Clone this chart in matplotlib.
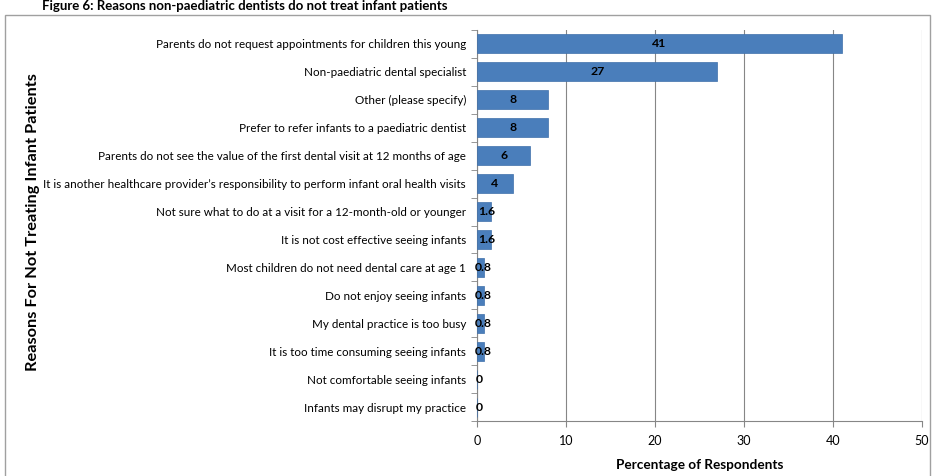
import numpy as np
from matplotlib import pyplot as plt
from matplotlib.patches import Rectangle

# data (top to bottom as in the chart)
reasons = [
    "Parents do not request appointments for children this young",
    "Non-paediatric dental specialist",
    "Other (please specify)",
    "Prefer to refer infants to a paediatric dentist",
    "Parents do not see the value of the first dental visit at 12 months of age",
    "It is another healthcare provider\u2019s responsibility to perform infant oral health visits",
    "Not sure what to do at a visit for a 12-month-old or younger",
    "It is not cost effective seeing infants",
    "Most children do not need dental care at age 1",
    "Do not enjoy seeing infants",
    "My dental practice is too busy",
    "It is too time consuming seeing infants",
    "Not comfortable seeing infants",
    "Infants may disrupt my practice",
]
percent = [41, 27, 8, 8, 6, 4, 1.6, 1.6, 0.8, 0.8, 0.8, 0.8, 0, 0]
value_labels = ["41", "27", "8", "8", "6", "4", "1.6", "1.6", "0.8", "0.8", "0.8", "0.8", "0", "0"]

plt.rcParams['font.family'] = ['Lato', 'DejaVu Sans']

fig = plt.figure(figsize=(9.33, 4.76), dpi=100)
ax = fig.add_axes([477 / 933, 1 - 421 / 476, 445 / 933, 391 / 476])

# outer chart frame
fig.patches.append(Rectangle((5 / 933, -0.01), 925 / 933, 1 - 15 / 476 + 0.01,
                             transform=fig.transFigure, fill=False,
                             edgecolor='#a0a0a0', linewidth=1))

# heading above the frame (cut off in the source, kept small here)
fig.text(0.045, 0.999, "Figure 6: Reasons non-paediatric dentists do not treat infant patients",
         fontsize=9.5, fontweight='bold', va='top', ha='left')

y = np.arange(len(reasons))
ax.barh(y, percent, height=0.68, color='#4a7ebb', edgecolor='#3f70ab', linewidth=0.5, zorder=3)
for yi, v, lab in zip(y, percent, value_labels):
    ax.text(v / 2 + (0.3 if v < 2 else 0), yi, lab, ha='center', va='center',
            fontsize=8.8, fontweight='bold', color='black', zorder=4)

ax.set_ylim(len(reasons) - 0.5, -0.5)
ax.set_xlim(0, 50)
ax.set_xticks([0, 10, 20, 30, 40, 50])
ax.set_yticks(y)
ax.set_yticklabels(reasons, fontsize=8.4)
ax.set_yticks(np.arange(-0.5, len(reasons), 1), minor=True)
ax.tick_params(axis='y', which='major', length=0, pad=8)
ax.tick_params(axis='y', which='minor', length=4, color='#868686')
ax.tick_params(axis='x', length=4, color='#868686', labelsize=9, pad=6)

ax.grid(axis='x', color='#868686', linewidth=0.8, zorder=0)
for s in ['top', 'right']:
    ax.spines[s].set_visible(False)
for s in ['left', 'bottom']:
    ax.spines[s].set_color('#868686')

ax.set_xlabel("Percentage of Respondents", fontsize=9.8, fontweight='bold', labelpad=9)
fig.text(33 / 933, 1 - 222 / 476, "Reasons For Not Treating Infant Patients", rotation=90,
         fontsize=11.8, fontweight='bold', ha='center', va='center')

fig.savefig("out.png", dpi=100)
